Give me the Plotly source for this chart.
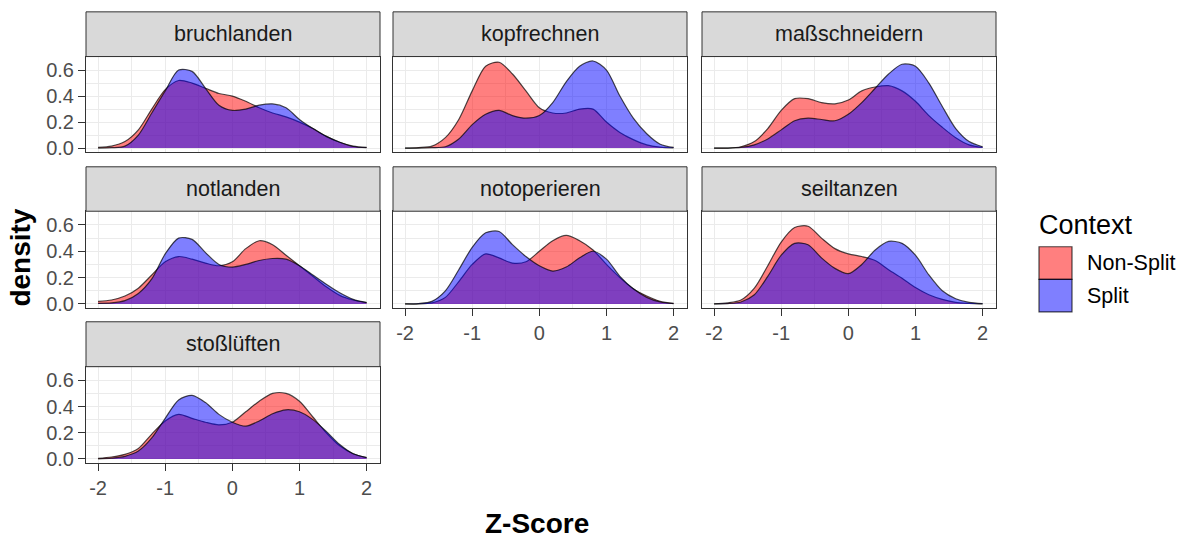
import plotly.graph_objects as go

# Z-score grid on which the density estimates are tabulated
z_grid = [-2.0, -1.8, -1.6, -1.4, -1.2, -1.0, -0.8, -0.6, -0.4, -0.2, 0.0,
          0.2, 0.4, 0.6, 0.8, 1.0, 1.2, 1.4, 1.6, 1.8, 2.0]

panels = ["bruchlanden", "kopfrechnen", "maßschneidern", "notlanden",
          "notoperieren", "seiltanzen", "stoßlüften"]

contexts = ["Non-Split", "Split"]

# density per panel and context
bruchlanden_nonsplit = [0.005, 0.015, 0.05, 0.14, 0.30, 0.45, 0.52, 0.50, 0.46, 0.42, 0.40,
                        0.36, 0.31, 0.27, 0.24, 0.20, 0.15, 0.09, 0.045, 0.015, 0.005]
bruchlanden_split = [0.0, 0.003, 0.015, 0.10, 0.27, 0.44, 0.60, 0.59, 0.46, 0.33, 0.29,
                     0.30, 0.33, 0.34, 0.31, 0.22, 0.15, 0.09, 0.045, 0.012, 0.003]

kopfrechnen_nonsplit = [0.0, 0.004, 0.015, 0.08, 0.22, 0.44, 0.63, 0.66, 0.57, 0.44, 0.31,
                        0.27, 0.27, 0.30, 0.30, 0.20, 0.12, 0.065, 0.025, 0.008, 0.002]
kopfrechnen_split = [0.0, 0.0, 0.003, 0.01, 0.07, 0.18, 0.26, 0.29, 0.25, 0.23, 0.25,
                     0.35, 0.51, 0.63, 0.67, 0.60, 0.40, 0.23, 0.11, 0.03, 0.005]

massschneidern_nonsplit = [0.0, 0.0, 0.01, 0.05, 0.15, 0.29, 0.38, 0.38, 0.35, 0.34, 0.37,
                           0.44, 0.47, 0.48, 0.44, 0.36, 0.25, 0.16, 0.08, 0.025, 0.005]
massschneidern_split = [0.0, 0.0, 0.005, 0.025, 0.07, 0.14, 0.21, 0.23, 0.22, 0.21, 0.26,
                        0.35, 0.46, 0.57, 0.645, 0.63, 0.50, 0.32, 0.15, 0.05, 0.01]

notlanden_nonsplit = [0.02, 0.03, 0.06, 0.12, 0.22, 0.32, 0.36, 0.34, 0.31, 0.29, 0.32,
                      0.42, 0.48, 0.45, 0.37, 0.29, 0.21, 0.13, 0.065, 0.03, 0.01]
notlanden_split = [0.005, 0.008, 0.025, 0.08, 0.19, 0.38, 0.50, 0.49, 0.39, 0.30, 0.28,
                   0.30, 0.33, 0.345, 0.34, 0.29, 0.22, 0.15, 0.085, 0.035, 0.01]

notoperieren_nonsplit = [0.0, 0.0, 0.008, 0.05, 0.17, 0.30, 0.38, 0.35, 0.31, 0.32, 0.40,
                         0.48, 0.52, 0.48, 0.41, 0.30, 0.20, 0.115, 0.06, 0.02, 0.005]
notoperieren_split = [0.0, 0.003, 0.02, 0.10, 0.26, 0.43, 0.54, 0.55, 0.45, 0.36, 0.29,
                      0.25, 0.28, 0.35, 0.40, 0.34, 0.21, 0.115, 0.05, 0.015, 0.002]

seiltanzen_nonsplit = [0.0, 0.008, 0.03, 0.12, 0.29, 0.47, 0.58, 0.59, 0.50, 0.42, 0.38,
                       0.36, 0.33, 0.26, 0.195, 0.125, 0.07, 0.035, 0.012, 0.004, 0.0]
seiltanzen_split = [0.0, 0.003, 0.015, 0.07, 0.21, 0.37, 0.46, 0.45, 0.35, 0.27, 0.23,
                    0.30, 0.41, 0.475, 0.46, 0.37, 0.22, 0.10, 0.04, 0.012, 0.003]

stossluften_nonsplit = [0.005, 0.015, 0.035, 0.08, 0.19, 0.29, 0.34, 0.31, 0.28, 0.26, 0.28,
                        0.36, 0.44, 0.50, 0.50, 0.44, 0.32, 0.20, 0.10, 0.04, 0.01]
stossluften_split = [0.0, 0.006, 0.02, 0.06, 0.16, 0.31, 0.45, 0.485, 0.43, 0.34, 0.28,
                     0.25, 0.29, 0.345, 0.375, 0.36, 0.30, 0.21, 0.11, 0.04, 0.01]

y_ticks = [0.0, 0.2, 0.4, 0.6]
y_tick_labels = ["0.0", "0.2", "0.4", "0.6"]
x_ticks = [-2, -1, 0, 1, 2]
x_tick_labels = ["-2", "-1", "0", "1", "2"]

densities = {
    "bruchlanden": (bruchlanden_nonsplit, bruchlanden_split),
    "kopfrechnen": (kopfrechnen_nonsplit, kopfrechnen_split),
    "maßschneidern": (massschneidern_nonsplit, massschneidern_split),
    "notlanden": (notlanden_nonsplit, notlanden_split),
    "notoperieren": (notoperieren_nonsplit, notoperieren_split),
    "seiltanzen": (seiltanzen_nonsplit, seiltanzen_split),
    "stoßlüften": (stossluften_nonsplit, stossluften_split),
}

# ---- layout geometry (pixels) ----
W, H = 1184, 539
col_x = [(86, 380), (393, 687), (702, 996)]
row_panel_y = [(57.3, 154.5), (214, 312.5), (371.5, 469.5)]
row_strip_top = [12, 169, 326]

FILL = {"Non-Split": "rgba(255,0,0,0.5)", "Split": "rgba(0,0,255,0.5)"}
OUTLINE = "rgba(0,0,0,0.7)"
FONT = "Liberation Sans, Arial, sans-serif"
GRID = "#EBEBEB"
DARK = "#333333"


def fx(px):
    return px / W


def fy(py):
    return 1 - py / H


fig = go.Figure()
layout = {}
shapes = []
annotations = []

for i, name in enumerate(panels):
    r, c = divmod(i, 3)
    idx = i + 1
    xa = "x" if idx == 1 else f"x{idx}"
    ya = "y" if idx == 1 else f"y{idx}"
    xkey = "xaxis" if idx == 1 else f"xaxis{idx}"
    ykey = "yaxis" if idx == 1 else f"yaxis{idx}"

    x0, x1 = col_x[c]
    y0, y1 = row_panel_y[r]

    for ctx, vals in zip(contexts, densities[name]):
        fig.add_trace(go.Scatter(
            x=z_grid, y=vals, xaxis=xa, yaxis=ya,
            mode="lines", fill="tozeroy", fillcolor=FILL[ctx],
            line=dict(color=OUTLINE, width=1.2, shape="spline", smoothing=0.8),
            name=ctx, showlegend=False, hoverinfo="skip",
        ))

    show_x = (r == 2) or (r == 1 and c > 0)
    show_y = c == 0

    layout[xkey] = dict(
        domain=[fx(x0), fx(x1)], anchor=ya, range=[-2.18, 2.2],
        tickmode="array", tickvals=x_ticks, ticktext=x_tick_labels,
        showticklabels=show_x, ticks="outside" if show_x else "",
        ticklen=7, tickwidth=1, tickcolor=DARK,
        tickfont=dict(family=FONT, size=20, color="#4D4D4D"),
        showgrid=True, gridcolor=GRID, gridwidth=1,
        minor=dict(tickmode="array", tickvals=[-1.5, -0.5, 0.5, 1.5],
                   showgrid=True, gridcolor=GRID, gridwidth=0.6, ticks=""),
        showline=True, mirror=True, linecolor=DARK, linewidth=1,
        zeroline=False, fixedrange=True,
    )
    layout[ykey] = dict(
        domain=[fy(y1), fy(y0)], anchor=xa, range=[-0.034, 0.704],
        tickmode="array", tickvals=y_ticks, ticktext=y_tick_labels,
        showticklabels=show_y, ticks="outside" if show_y else "",
        ticklen=7, tickwidth=1, tickcolor=DARK,
        tickfont=dict(family=FONT, size=20, color="#4D4D4D"),
        showgrid=True, gridcolor=GRID, gridwidth=1,
        minor=dict(tickmode="array", tickvals=[0.1, 0.3, 0.5],
                   showgrid=True, gridcolor=GRID, gridwidth=0.6, ticks=""),
        showline=True, mirror=True, linecolor=DARK, linewidth=1,
        zeroline=False, fixedrange=True,
    )

    # facet strip
    st = row_strip_top[r]
    shapes.append(dict(type="rect", xref="paper", yref="paper",
                       x0=fx(x0), x1=fx(x1), y0=fy(y0), y1=fy(st),
                       fillcolor="#D9D9D9", line=dict(color=DARK, width=1),
                       layer="above"))
    annotations.append(dict(text=name, xref="paper", yref="paper",
                            x=fx((x0 + x1) / 2), y=fy((st + y0) / 2),
                            xanchor="center", yanchor="middle", showarrow=False,
                            font=dict(family=FONT, size=21.5, color="#1A1A1A")))

# axis titles
annotations.append(dict(text="<b>density</b>", xref="paper", yref="paper",
                        x=fx(21), y=fy(261), textangle=-90,
                        xanchor="center", yanchor="middle", showarrow=False,
                        font=dict(family=FONT, size=28, color="black")))
annotations.append(dict(text="<b>Z-Score</b>", xref="paper", yref="paper",
                        x=fx(537), y=fy(530),
                        xanchor="center", yanchor="middle", showarrow=False,
                        font=dict(family=FONT, size=28, color="black")))

# legend
annotations.append(dict(text="Context", xref="paper", yref="paper",
                        x=fx(1037), y=fy(228), xanchor="left", yanchor="middle",
                        showarrow=False,
                        font=dict(family=FONT, size=27, color="black")))
key_top = 250
key_size = 33
for k, ctx in enumerate(contexts):
    t = key_top + k * key_size
    shapes.append(dict(type="rect", xref="paper", yref="paper",
                       x0=fx(1039), x1=fx(1039 + key_size),
                       y0=fy(t + key_size), y1=fy(t),
                       fillcolor=FILL[ctx], line=dict(color=OUTLINE, width=1.2)))
    annotations.append(dict(text=ctx, xref="paper", yref="paper",
                            x=fx(1085), y=fy(t + key_size / 2), xanchor="left",
                            yanchor="middle", showarrow=False,
                            font=dict(family=FONT, size=21.5, color="black")))

fig.update_layout(
    width=W, height=H, margin=dict(l=0, r=0, t=0, b=0),
    paper_bgcolor="white", plot_bgcolor="white",
    shapes=shapes, annotations=annotations, showlegend=False,
    **layout,
)

fig.write_html("out.html")
